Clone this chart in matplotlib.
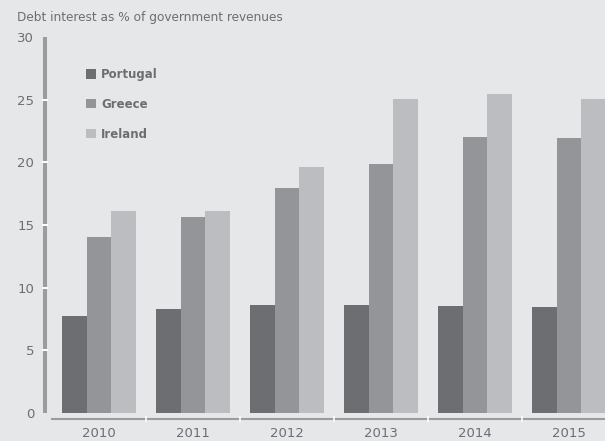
import matplotlib
matplotlib.use("Agg")
import matplotlib.pyplot as plt
import numpy as np

# Data
years = ["2010", "2011", "2012", "2013", "2014", "2015"]
portugal = [7.7, 8.3, 8.6, 8.6, 8.5, 8.45]
greece = [14.0, 15.6, 17.95, 19.85, 22.0, 21.95]
ireland = [16.1, 16.1, 19.6, 25.1, 25.45, 25.1]
series_names = ["Portugal", "Greece", "Ireland"]
title = "Debt interest as % of government revenues"

bg = "#e6e7e9"
colors = ["#6d6e71", "#939598", "#bcbdc0"]
axis_grey = "#9b9c9e"
text_grey = "#6d6e71"

W, H = 605, 441
fig = plt.figure(figsize=(W / 100, H / 100), dpi=100, facecolor=bg)

# axes placement in pixel terms
left_px, right_px = 52, 605
top_px, bottom_px = 37.2, 412.7
ax = fig.add_axes([left_px / W, (H - bottom_px) / H,
                   (right_px - left_px) / W, (bottom_px - top_px) / H])
ax.set_facecolor(bg)

x = np.arange(len(years))
bw = 0.263
for i, (vals, name) in enumerate(zip([portugal, greece, ireland], series_names)):
    ax.bar(x + (i - 1) * bw, vals, width=bw, color=colors[i], label=name,
           linewidth=0, zorder=2)

ax.set_xlim(-0.5, -0.5 + (right_px - left_px) / 94.0)
ax.set_ylim(0, 30)

# spines
for s in ["top", "right"]:
    ax.spines[s].set_visible(False)
ax.spines["left"].set_position(("outward", 5.0))
ax.spines["left"].set_color(axis_grey)
ax.spines["left"].set_linewidth(2.9)
ax.spines["left"].set_capstyle("butt")
ax.spines["bottom"].set_position(("outward", 4.7))
ax.spines["bottom"].set_color(axis_grey)
ax.spines["bottom"].set_linewidth(1.5)
# draw tick marks on top of the spines
ax.xaxis.set_zorder(3)
ax.yaxis.set_zorder(3)

# y ticks: labels at every 5, white marks only on inner ticks
ax.yaxis.remove_overlapping_locs = False
ax.set_yticks(np.arange(0, 31, 5))
ax.set_yticklabels([str(v) for v in range(0, 31, 5)])
ax.tick_params(axis="y", which="major", length=0, pad=7.8,
               labelsize=9.5, labelcolor=text_grey)
ax.set_yticks(np.arange(5, 26, 5), minor=True)
ax.tick_params(axis="y", which="minor", length=4.5, width=1.4,
               color="white", direction="inout")

# x ticks: labels centred on categories, white marks at boundaries
ax.set_xticks(x)
ax.set_xticklabels(years)
ax.tick_params(axis="x", which="major", length=0, pad=5.5,
               labelsize=9.5, labelcolor=text_grey)
ax.set_xticks(np.arange(0.5, len(years) - 0.5, 1.0), minor=True)
ax.tick_params(axis="x", which="minor", length=5, width=1.2,
               color="white", direction="inout")

# title
fig.text(17 / W, 1 - 18 / H, title, fontsize=8.7, color=text_grey,
         ha="left", va="center")

# legend
leg = ax.legend(loc="upper left", bbox_to_anchor=(86 / W, 1 - 68 / H),
                bbox_transform=fig.transFigure, frameon=False,
                prop={"weight": "bold", "size": 8.5},
                handlelength=0.85, handleheight=0.85, handletextpad=0.45,
                labelspacing=1.42, borderpad=0, borderaxespad=0)
for t in leg.get_texts():
    t.set_color(text_grey)

fig.savefig("out.png", dpi=100, facecolor=bg)
